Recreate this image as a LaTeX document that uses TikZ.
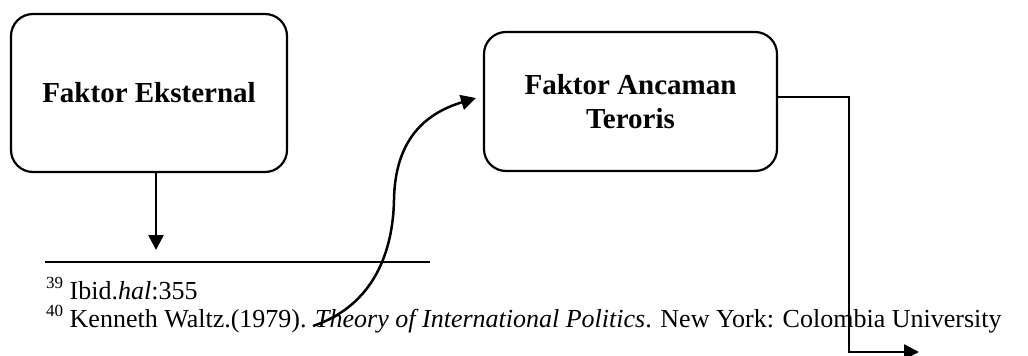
\documentclass[tikz,border=0pt]{standalone}
\usepackage{fontspec}
\setmainfont{Liberation Serif}
\usetikzlibrary{arrows.meta}
\newcommand{\fnmark}[1]{\raisebox{0.4em}{\fontsize{17}{17}\selectfont #1}}
\begin{document}
\begin{tikzpicture}[x=1pt,y=-1pt,
  factorbox/.style={draw, line width=2.2pt, rounded corners=22pt, align=center,
    font=\fontsize{29}{34}\selectfont\bfseries, inner sep=0pt},
  conn/.style={line width=2.5pt, -{Triangle[length=15pt,width=15pt]}},
  fntext/.style={anchor=base west, inner sep=0pt, font=\fontsize{26}{28}\selectfont}]
\useasboundingbox (0,0) rectangle (1028,356);
\node[factorbox, minimum width=276pt, minimum height=158pt] (b1) at (149,93) {Faktor Eksternal};
\node[factorbox, minimum width=293pt, minimum height=139pt] (b2) at (630.5,101.5) {Faktor Ancaman\\Teroris};
\coordinate (t1) at (156,250);
\coordinate (rs) at (45,262);
\coordinate (re) at (430,262);
\coordinate (cs) at (313,326);
\coordinate (ce) at (476,98);
\coordinate (k1) at (849,352);
\coordinate (e2) at (919,352);
\draw[line width=1.9pt] (rs) -- (re);
\node[fntext] (f39) at (46,299) {\fnmark{39} Ibid.\textit{hal}:355};
\node[fntext] (f40) at (46,327) {\fnmark{40} Kenneth Waltz.(1979). \textit{Theory of International Politics}. New York: Colombia University};
\draw[conn] (b1.south -| t1) -- (t1);
\draw[conn] (cs) .. controls (375,305) and (393,250) .. (394,200) .. controls (395,135) and (430,112) .. (ce);
\draw[conn] (b2.east |- 0,97) -- (849,97) -- (k1) -- (e2);
\end{tikzpicture}
\end{document}
